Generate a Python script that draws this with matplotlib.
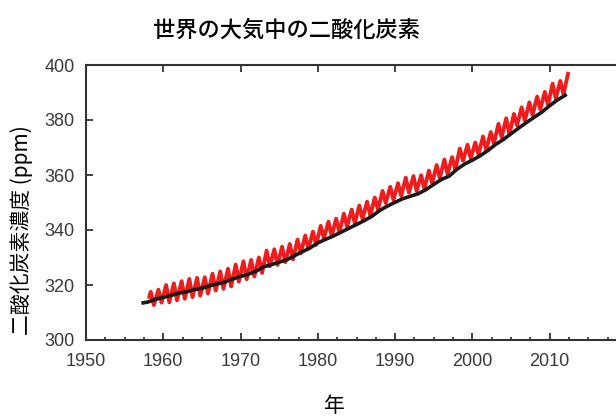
import numpy as np
import matplotlib
matplotlib.use('Agg')
import matplotlib.pyplot as plt
from matplotlib.ticker import MultipleLocator

plt.rcParams['font.family'] = ['Liberation Sans', 'Noto Sans CJK JP', 'DejaVu Sans']
jp_font = ['Noto Sans CJK JP', 'DejaVu Sans']

# Mauna Loa style seasonal curve: start point, then May peak / autumn trough each year
red_start = (1958.2, 315.7)
peak_years = np.arange(1958, 2013)
peaks = [317.5, 318.3, 320.0, 320.6, 321.4, 322.2, 322.6, 322.8, 324.1, 324.9,
         325.9, 327.4, 328.6, 329.1, 330.0, 332.5, 333.0, 333.9, 334.9, 336.5,
         338.0, 339.4, 341.5, 343.0, 344.1, 345.9, 347.4, 348.9, 350.3, 351.8,
         354.2, 355.7, 357.0, 359.0, 359.6, 359.9, 361.6, 363.6, 365.6, 366.5,
         369.6, 371.0, 371.8, 374.0, 375.6, 378.6, 380.6, 382.2, 384.6, 386.4,
         388.5, 390.2, 393.2, 394.2, 396.8]
trough_years = np.arange(1958, 2012)
troughs = [312.7, 313.6, 313.7, 314.4, 315.0, 315.6, 316.1, 316.9, 318.0, 318.6,
           319.5, 321.2, 322.1, 323.1, 324.4, 326.8, 327.3, 328.3, 329.3, 331.5,
           333.2, 334.6, 337.0, 337.8, 339.1, 341.2, 342.5, 344.0, 345.3, 347.4,
           349.8, 351.0, 352.4, 353.6, 354.2, 355.0, 357.0, 358.9, 360.3, 361.9,
           365.2, 366.0, 367.5, 369.0, 371.5, 373.7, 374.7, 378.0, 379.8, 381.8,
           383.9, 385.4, 387.8, 389.4]

# smoother (trend) curve in black
black_years = [1957.4, 1958, 1959, 1960, 1961, 1962, 1963, 1964, 1965, 1966, 1967,
               1968, 1969, 1970, 1971, 1972, 1973, 1974, 1975, 1976, 1977, 1978,
               1979, 1980, 1981, 1982, 1983, 1984, 1985, 1986, 1987, 1988, 1989,
               1990, 1991, 1992, 1993, 1994, 1995, 1996, 1997, 1998, 1999, 2000,
               2001, 2002, 2003, 2004, 2005, 2006, 2007, 2008, 2009, 2010, 2011, 2012]
black_vals = [313.5, 313.8, 314.8, 315.5, 316.2, 317.0, 317.5, 318.3, 318.8, 319.7, 320.4,
              321.1, 322.2, 323.1, 323.9, 325.0, 326.6, 327.4, 328.3, 329.2, 330.7, 332.1,
              333.5, 335.3, 336.6, 337.8, 339.2, 340.6, 342.0, 343.4, 345.0, 347.1, 348.7,
              350.1, 351.4, 352.3, 353.2, 354.7, 356.6, 358.4, 359.6, 362.1, 364.0, 365.4,
              367.0, 368.9, 371.1, 372.9, 375.0, 377.1, 379.1, 381.0, 382.9, 385.2, 387.3, 389.0]

xticks = [1950, 1960, 1970, 1980, 1990, 2000, 2010, 2020]
xtick_labels = ['1950', '1960', '1970', '1980', '1990', '2000', '2010', '']

title = '世界の大気中の二酸化炭素'
ylabel = '二酸化炭素濃度 (ppm)'
xlabel = '年'

# interleave peaks (May) and troughs (autumn) into one seasonal line
red_x = [red_start[0]]
red_y = [red_start[1]]
for i, yr in enumerate(peak_years):
    red_x.append(yr + 0.37)
    red_y.append(peaks[i])
    if i < len(troughs):
        red_x.append(trough_years[i] + 0.78)
        red_y.append(troughs[i])

fig = plt.figure(figsize=(6.16, 4.16), dpi=100)
ax = fig.add_axes([86/616, 76/416, 541/616, 275/416])

ax.plot(red_x, red_y, color='#ee1c1c', lw=2.8, solid_joinstyle='round', zorder=2)
ax.plot(black_years, black_vals, color='#1a1a1a', lw=2.6, zorder=3)

ax.set_xlim(1950, 2020)
ax.set_ylim(300, 400)
ax.set_xticks(xticks, xtick_labels)
ax.xaxis.set_minor_locator(MultipleLocator(2.5))
ax.yaxis.set_major_locator(MultipleLocator(20))

for s in ax.spines.values():
    s.set_color('#333333')
    s.set_linewidth(1.5)

ax.tick_params(axis='both', which='major', direction='in', length=5, width=1.3,
               color='#333333', labelsize=13, labelcolor='#3a3a3a')
ax.tick_params(axis='x', which='major', pad=9, top=True)
ax.tick_params(axis='x', which='minor', direction='in', length=2.5, width=1.2,
               color='#333333')
ax.tick_params(axis='y', which='major', pad=8)

ax.set_ylabel(ylabel, family=jp_font, fontsize=15, va='center', ha='center')
ax.yaxis.set_label_coords(-0.118, 0.40)
ax.set_xlabel(xlabel, family=jp_font, fontsize=15, va='top', ha='center')
ax.xaxis.set_label_coords(0.46, -0.20)

fig.text(287/616, 1 - 30/416, title, family=jp_font, fontsize=16,
         fontweight='medium', ha='center', va='center')

fig.savefig('out.png', dpi=100)
